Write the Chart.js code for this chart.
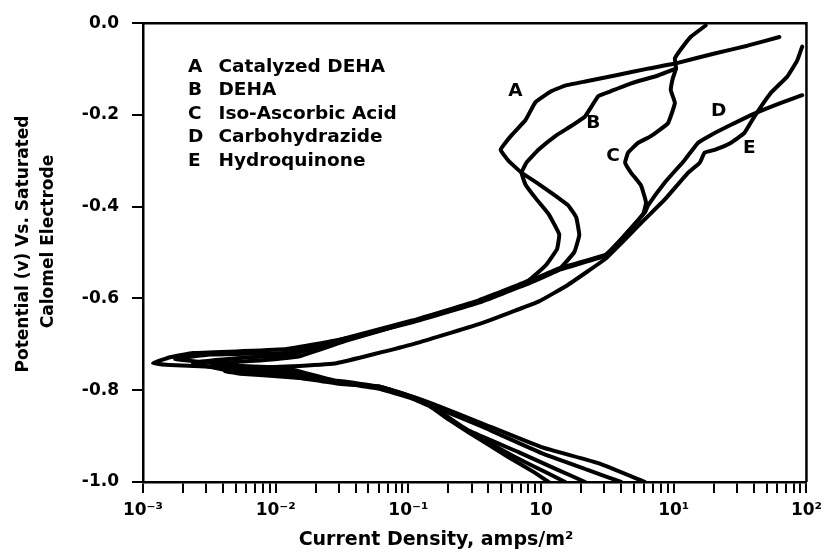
<!DOCTYPE html>
<html>
<head>
<meta charset="utf-8">
<script src="https://cdn.jsdelivr.net/npm/chart.js@4"></script>
<style>body{margin:0;background:#fff}</style>
</head>
<body>
<canvas id="myChart" width="829" height="558"></canvas>
<script>
// axis ticks
const xDecades = [0.001, 0.01, 0.1, 1, 10, 100];
const xTickLabels = ['10⁻³', '10⁻²', '10⁻¹', '10', '10¹', '10²'];
const xTitle = 'Current Density, amps/m²';
const yTitle = ['Potential (v) Vs. Saturated', 'Calomel Electrode'];

// curves: current density (amps/m2) and potential (V)
const curveLetters = ['A', 'B', 'C', 'D', 'E'];
const curveNames = ['Catalyzed DEHA', 'DEHA', 'Iso-Ascorbic Acid', 'Carbohydrazide', 'Hydroquinone'];

const aCurrent = [1.14, 0.877, 0.569, 0.285, 0.202, 0.143, 0.107, 0.0603, 0.0302, 0.0121, 0.0045, 0.0016, 0.00119, 0.0016, 0.00238, 0.00537, 0.0121, 0.0341, 0.107, 0.339, 0.764, 1.35, 1.78, 1.94, 1.84, 1.60, 1.24, 0.955, 0.713, 0.569, 0.496, 0.600, 0.764, 0.908, 1.20, 1.52, 2.15, 3.61, 6.40, 10.2, 20.3, 35.9, 62.5];
const aPotential = [-1.0, -0.978, -0.946, -0.892, -0.864, -0.834, -0.818, -0.797, -0.784, -0.764, -0.751, -0.745, -0.741, -0.728, -0.719, -0.715, -0.710, -0.687, -0.652, -0.609, -0.570, -0.538, -0.499, -0.462, -0.423, -0.397, -0.373, -0.350, -0.326, -0.300, -0.276, -0.244, -0.211, -0.172, -0.148, -0.136, -0.127, -0.114, -0.099, -0.088, -0.066, -0.049, -0.030];

const bCurrent = [1.52, 1.04, 0.621, 0.285, 0.202, 0.143, 0.107, 0.0603, 0.0302, 0.0121, 0.0045, 0.00175, 0.0032, 0.0121, 0.0341, 0.107, 0.339, 0.803, 1.09, 1.32, 1.37, 1.14, 0.925, 0.764, 0.713, 0.776, 0.955, 1.28, 1.69, 2.15, 2.70, 3.37, 4.77, 7.6, 10.4];
const bPotential = [-1.0, -0.976, -0.944, -0.890, -0.862, -0.831, -0.816, -0.795, -0.782, -0.757, -0.745, -0.732, -0.722, -0.718, -0.686, -0.648, -0.604, -0.561, -0.527, -0.492, -0.460, -0.416, -0.384, -0.352, -0.326, -0.304, -0.276, -0.246, -0.224, -0.203, -0.159, -0.148, -0.131, -0.114, -0.099];

const cCurrent = [2.15, 1.35, 0.676, 0.285, 0.202, 0.143, 0.107, 0.0603, 0.0302, 0.0121, 0.0045, 0.00238, 0.0064, 0.0121, 0.0341, 0.107, 0.339, 0.764, 1.35, 3.04, 4.01, 5.87, 6.18, 5.67, 4.77, 4.30, 4.53, 5.38, 6.73, 9.04, 10.2, 9.5, 9.84, 10.4, 10.2, 11.1, 13.4, 17.4];
const cPotential = [-1.0, -0.974, -0.935, -0.888, -0.860, -0.829, -0.814, -0.792, -0.786, -0.769, -0.758, -0.740, -0.728, -0.724, -0.690, -0.650, -0.607, -0.566, -0.538, -0.507, -0.471, -0.416, -0.391, -0.354, -0.326, -0.304, -0.282, -0.261, -0.246, -0.218, -0.174, -0.146, -0.120, -0.099, -0.077, -0.060, -0.030, -0.005];

const dCurrent = [4.01, 2.27, 1.007, 0.357, 0.151, 0.107, 0.0603, 0.0302, 0.0121, 0.00537, 0.00348, 0.0076, 0.0151, 0.0341, 0.107, 0.339, 0.764, 1.35, 3.04, 4.01, 6.07, 6.40, 8.57, 12.1, 15.2, 19.0, 26.8, 41.3, 63.6, 92.9];
const dPotential = [-1.0, -0.974, -0.937, -0.879, -0.834, -0.816, -0.795, -0.782, -0.752, -0.747, -0.741, -0.735, -0.726, -0.692, -0.650, -0.607, -0.566, -0.535, -0.505, -0.471, -0.412, -0.397, -0.347, -0.298, -0.261, -0.244, -0.222, -0.196, -0.174, -0.157];

const eCurrent = [6.07, 2.70, 1.007, 0.357, 0.151, 0.107, 0.0603, 0.0302, 0.0121, 0.00537, 0.00414, 0.0076, 0.0151, 0.0287, 0.107, 0.339, 0.955, 1.60, 3.04, 4.30, 6.07, 8.57, 12.8, 15.7, 17.1, 20.3, 26.8, 34.1, 40.6, 53.5, 71.8, 85.3, 92.9];
const ePotential = [-1.0, -0.959, -0.924, -0.872, -0.829, -0.814, -0.792, -0.780, -0.771, -0.764, -0.758, -0.751, -0.747, -0.741, -0.700, -0.656, -0.607, -0.570, -0.514, -0.471, -0.427, -0.384, -0.326, -0.304, -0.282, -0.276, -0.261, -0.239, -0.203, -0.153, -0.116, -0.081, -0.051];

// where the letters sit next to each curve
const labelCurrent = [0.640, 2.47, 3.49, 21.8, 37.1];
const labelPotential = [-0.149, -0.218, -0.289, -0.192, -0.272];

const allCurrents = [aCurrent, bCurrent, cCurrent, dCurrent, eCurrent];
const allPotentials = [aPotential, bPotential, cPotential, dPotential, ePotential];

// log minor ticks 1..9 in every decade
const xTickValues = [];
xDecades.forEach((d, i) => {
    if (i < xDecades.length - 1) {
        for (let m = 1; m <= 9; m++) xTickValues.push(d * m);
    } else {
        xTickValues.push(d);
    }
});

const boldFont = {family: 'DejaVu Sans', weight: 'bold', size: 17};

const annotate = {
    id: 'annotate',
    afterDraw(chart) {
        const ctx = chart.ctx;
        const a = chart.chartArea;
        const x = chart.scales.x;
        const y = chart.scales.y;
        ctx.save();
        ctx.strokeStyle = '#000';
        ctx.lineWidth = 2.5;
        ctx.beginPath();
        ctx.moveTo(a.left, a.top);
        ctx.lineTo(a.right, a.top);
        ctx.lineTo(a.right, a.bottom);
        ctx.stroke();

        ctx.fillStyle = '#000';
        ctx.font = 'bold 18.5px "DejaVu Sans"';
        ctx.textBaseline = 'middle';
        ctx.textAlign = 'left';
        curveLetters.forEach((l, i) => {
            const yy = a.top + 43.7 + i * 23.5;
            ctx.fillText(l, a.left + 45, yy);
            ctx.fillText(curveNames[i], a.left + 75.5, yy);
        });

        ctx.textAlign = 'center';
        curveLetters.forEach((l, i) => {
            ctx.fillText(l, x.getPixelForValue(labelCurrent[i]), y.getPixelForValue(labelPotential[i]));
        });

        ctx.font = 'bold 19px "DejaVu Sans"';
        ctx.textBaseline = 'alphabetic';
        ctx.fillText(xTitle, a.left + 293, 545);

        ctx.font = 'bold 17px "DejaVu Sans"';
        ctx.textBaseline = 'middle';
        ctx.rotate(-Math.PI / 2);
        ctx.fillText(yTitle[0], -244, 24);
        ctx.fillText(yTitle[1], -241.5, 49);
        ctx.restore();
    }
};

const ctx = document.getElementById('myChart').getContext('2d');

const myChart = new Chart(ctx, {
    type: 'scatter',
    data: {
        datasets: allCurrents.map((cur, i) => ({
            label: curveNames[i],
            data: cur.map((v, j) => ({x: v, y: allPotentials[i][j]})),
            showLine: true,
            borderColor: '#000',
            backgroundColor: '#000',
            borderWidth: 4,
            borderJoinStyle: 'round',
            borderCapStyle: 'round',
            pointRadius: 0,
            tension: 0.1
        }))
    },
    options: {
        responsive: false,
        animation: false,
        layout: {padding: {top: 19, right: 20, left: 0, bottom: 0}},
        plugins: {
            legend: {display: false},
            tooltip: {enabled: false}
        },
        scales: {
            x: {
                type: 'logarithmic',
                min: 0.001,
                max: 100,
                afterBuildTicks: s => { s.ticks = xTickValues.map(v => ({value: v})); },
                afterFit: s => { s.height = 76; },
                ticks: {
                    autoSkip: false,
                    maxRotation: 0,
                    padding: 7,
                    color: '#000',
                    font: boldFont,
                    callback: v => {
                        const i = xDecades.findIndex(d => Math.abs(v / d - 1) < 1e-6);
                        return i >= 0 ? xTickLabels[i] : '';
                    }
                },
                grid: {drawOnChartArea: false, tickLength: 11, color: '#000', lineWidth: 2},
                border: {color: '#000', width: 2.5}
            },
            y: {
                min: -1,
                max: 0,
                afterFit: s => { s.width = 143; },
                ticks: {
                    stepSize: 0.2,
                    padding: 13,
                    color: '#000',
                    font: boldFont,
                    callback: v => v.toFixed(1)
                },
                grid: {drawOnChartArea: false, tickLength: 11, color: '#000', lineWidth: 2},
                border: {color: '#000', width: 2.5}
            }
        }
    },
    plugins: [annotate]
});
</script>
</body>
</html>
